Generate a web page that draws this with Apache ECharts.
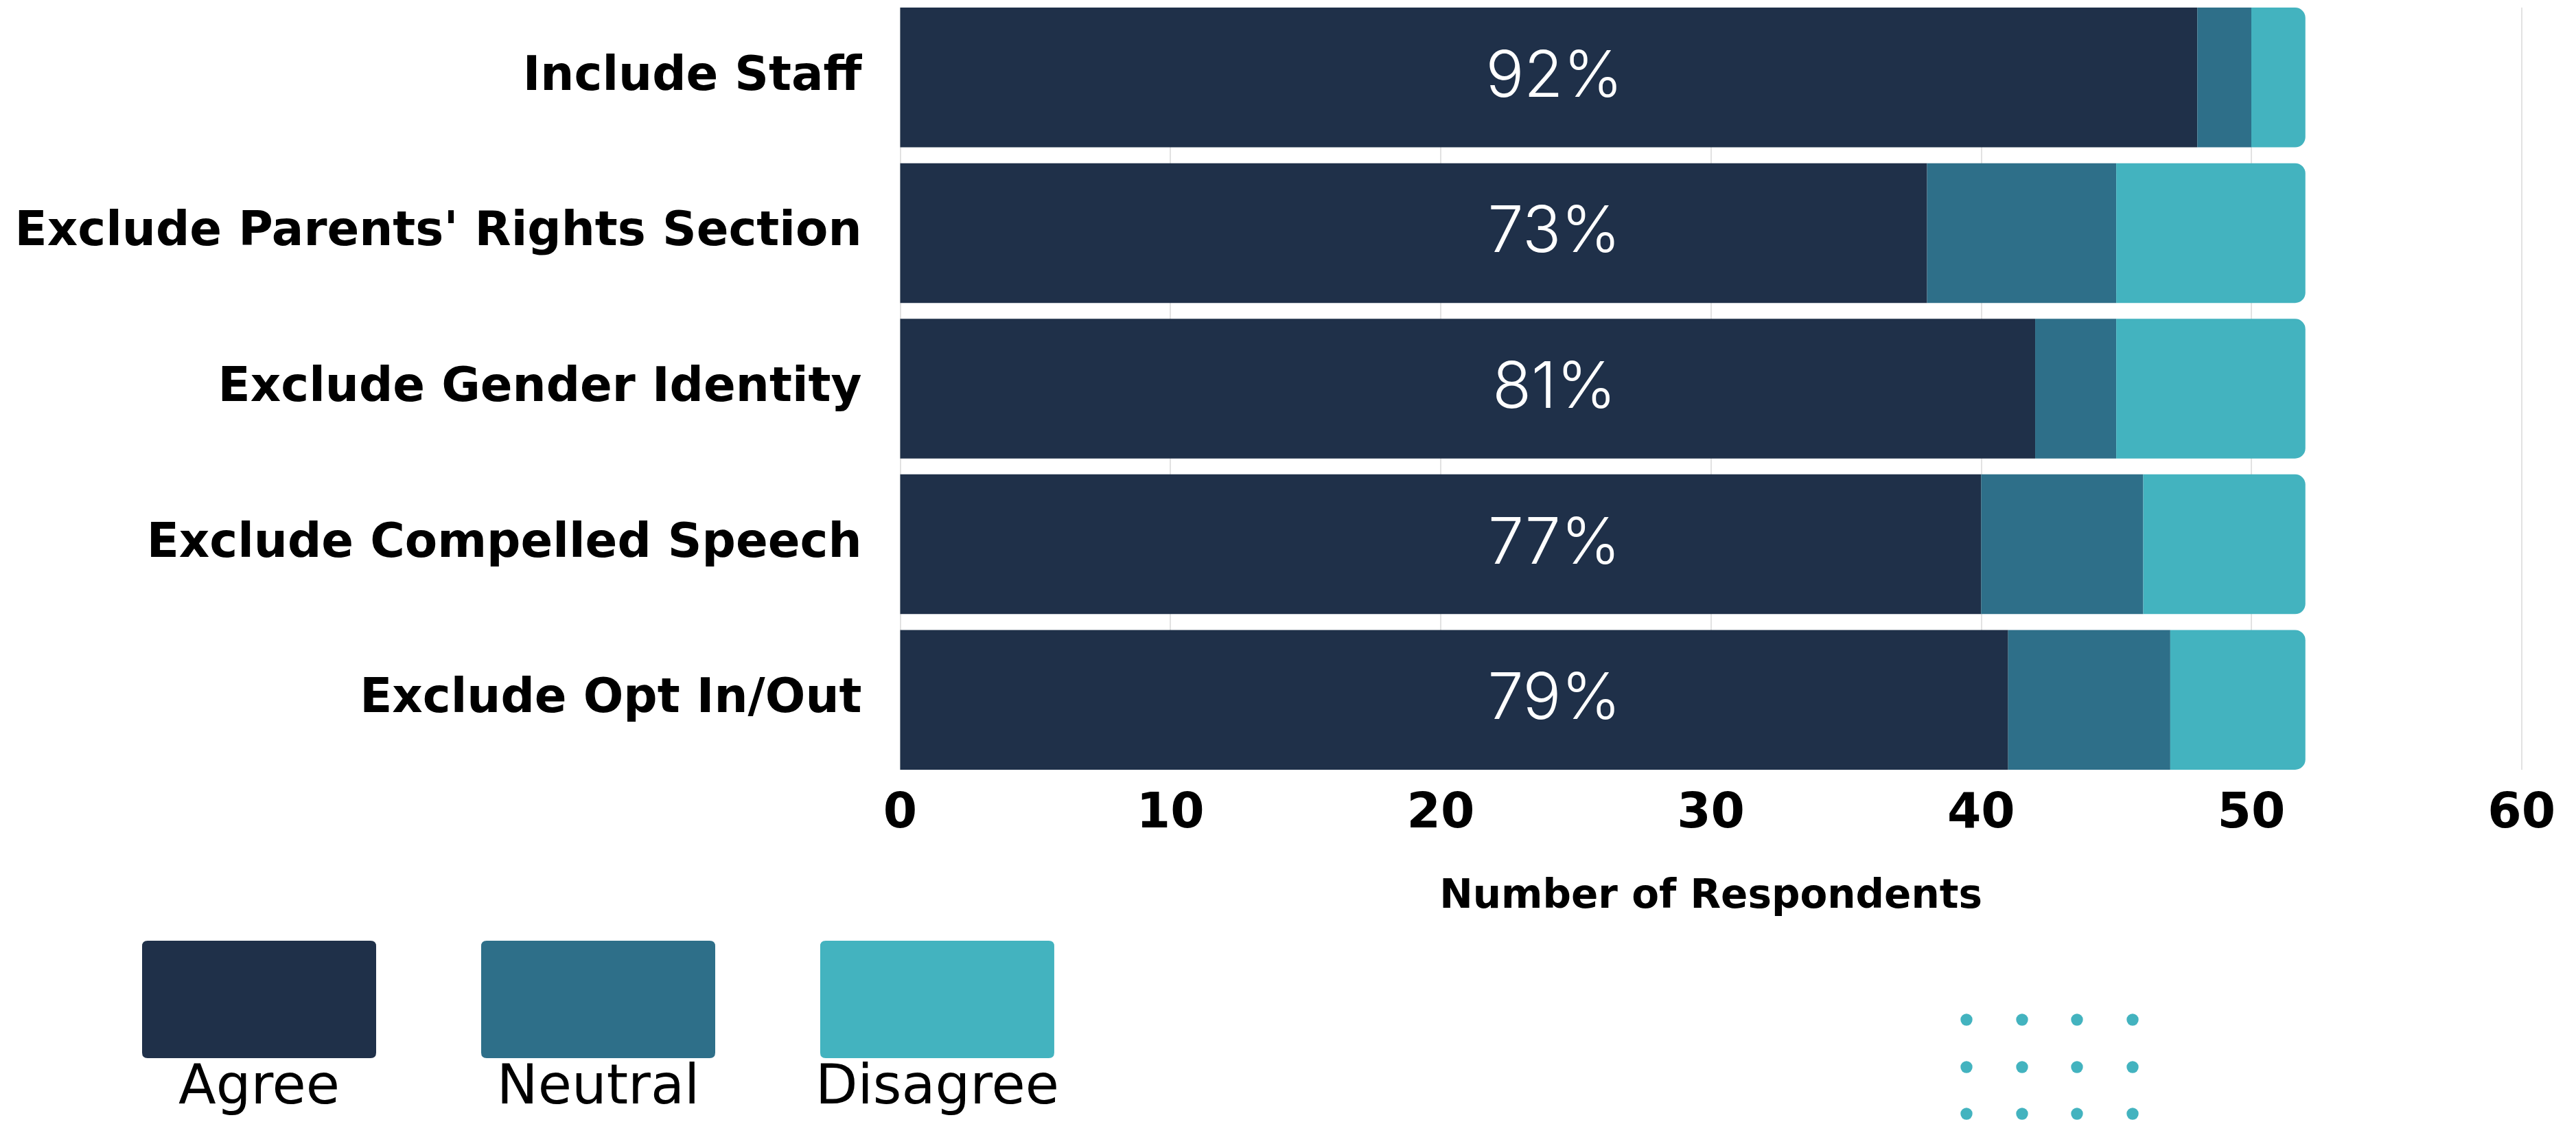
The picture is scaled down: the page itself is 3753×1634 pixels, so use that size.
<!DOCTYPE html>
<html>
<head>
<meta charset="utf-8">
<script src="https://cdn.jsdelivr.net/npm/echarts@6/dist/echarts.min.js"></script>
<style>
html, body { margin: 0; padding: 0; background: #ffffff; }
#chart { width: 3753px; height: 1634px; }
</style>
</head>
<body>
<div id="chart"></div>
<script>
// ---- data ----
var categories = ['Include Staff', "Exclude Parents' Rights Section", 'Exclude Gender Identity', 'Exclude Compelled Speech', 'Exclude Opt In/Out'];
var agree = [48, 38, 42, 40, 41];
var neutral = [2, 7, 3, 6, 6];
var disagree = [2, 7, 7, 6, 5];
var agreeLabels = ['92%', '73%', '81%', '77%', '79%'];
var xTicks = [0, 10, 20, 30, 40, 50, 60];
var seriesNames = ['Agree', 'Neutral', 'Disagree'];

var COLORS = ['#1F3049', '#2E6F89', '#43B3BF'];
var GRID_LEFT = 1311.5, GRID_RIGHT = 79.3;
var LABEL_OFFSET_X = 953; // label anchor, px from the bar start

var chart = echarts.init(document.getElementById('chart'), null, { renderer: 'canvas' });

function legendFor(i, left) {
  var r = 8, w = 341, h = 171;
  return {
    data: [seriesNames[i]],
    left: left, top: 1370,
    padding: 0,
    orient: 'horizontal',
    itemWidth: w, itemHeight: h,
    icon: 'path://M' + r + ',0 H' + (w - r) + ' Q' + w + ',0 ' + w + ',' + r + ' V' + (h - r) + ' Q' + w + ',' + h + ' ' + (w - r) + ',' + h + ' H' + r + ' Q0,' + h + ' 0,' + (h - r) + ' V' + r + ' Q0,0 ' + r + ',0 Z',
    selectedMode: false,
    formatter: function (name) { return '{t|' + name + '}'; },
    textStyle: {
      width: w,
      padding: [262, 0, 0, -(w + 5)],
      rich: {
        t: { align: 'center', fontSize: 80, fontFamily: 'DejaVu Sans', fontWeight: 'normal', color: '#000000' }
      }
    }
  };
}

var dots = [];
var dotX = [2865, 2946, 3026, 3107], dotY = [1485, 1554, 1622];
dotY.forEach(function (y) { dotX.forEach(function (x) {
  dots.push({ type: 'circle', shape: { cx: x, cy: y, r: 8.7 }, style: { fill: '#43B3BF' }, silent: true });
}); });

var option = {
  backgroundColor: '#ffffff',
  animation: false,
  color: COLORS,
  grid: [
    { left: GRID_LEFT, right: GRID_RIGHT, top: -0.5, height: 1133, containLabel: false, outerBoundsMode: 'none' },
    { left: GRID_LEFT, right: GRID_RIGHT, top: 11, height: 1110, containLabel: false, outerBoundsMode: 'none' }
  ],
  xAxis: [
    { type: 'value', gridIndex: 0, min: 0, max: 60, interval: 10,
      axisLine: { show: false }, axisTick: { show: false }, axisLabel: { show: false }, splitLine: { show: false } },
    { type: 'value', gridIndex: 1, min: xTicks[0], max: xTicks[xTicks.length - 1], interval: 10,
      axisLine: { show: false }, axisTick: { show: false },
      axisLabel: { show: true, margin: 30, fontSize: 71, fontWeight: 'bold', fontFamily: 'DejaVu Sans', color: '#000000' },
      splitLine: { show: true, lineStyle: { color: '#d9d9d9', width: 1.5 } },
      name: 'Number of Respondents', nameLocation: 'middle', nameGap: 157,
      nameTextStyle: { fontSize: 58, fontWeight: 'bold', fontFamily: 'DejaVu Sans', color: '#000000' }
    }
  ],
  yAxis: [
    { type: 'category', gridIndex: 0, data: categories, inverse: true,
      axisLine: { show: false }, axisTick: { show: false }, splitLine: { show: false },
      axisLabel: { margin: 56, fontSize: 69, fontWeight: 'bold', fontFamily: 'DejaVu Sans', color: '#000000' } },
    { type: 'category', gridIndex: 1, data: categories, inverse: true, show: false }
  ],
  legend: [legendFor(0, 207), legendFor(1, 701), legendFor(2, 1188)],
  graphic: dots,
  series: [
    { name: 'Agree', type: 'bar', stack: 'total', xAxisIndex: 0, yAxisIndex: 0, data: agree,
      barCategoryGap: '10.2%',
      itemStyle: { color: COLORS[0] },
      label: { show: true, position: [LABEL_OFFSET_X, '50%'], align: 'center', verticalAlign: 'middle',
        color: '#ffffff', fontSize: 93, fontWeight: 300, fontFamily: 'Inter',
        formatter: function (p) { return agreeLabels[p.dataIndex]; } } },
    { name: 'Neutral', type: 'bar', stack: 'total', xAxisIndex: 0, yAxisIndex: 0, data: neutral,
      barCategoryGap: '10.2%',
      itemStyle: { color: COLORS[1] } },
    { name: 'Disagree', type: 'bar', stack: 'total', xAxisIndex: 0, yAxisIndex: 0, data: disagree,
      barCategoryGap: '10.2%',
      itemStyle: { color: COLORS[2], borderRadius: [0, 15, 15, 0] } }
  ]
};
chart.setOption(option);
</script>
</body>
</html>
